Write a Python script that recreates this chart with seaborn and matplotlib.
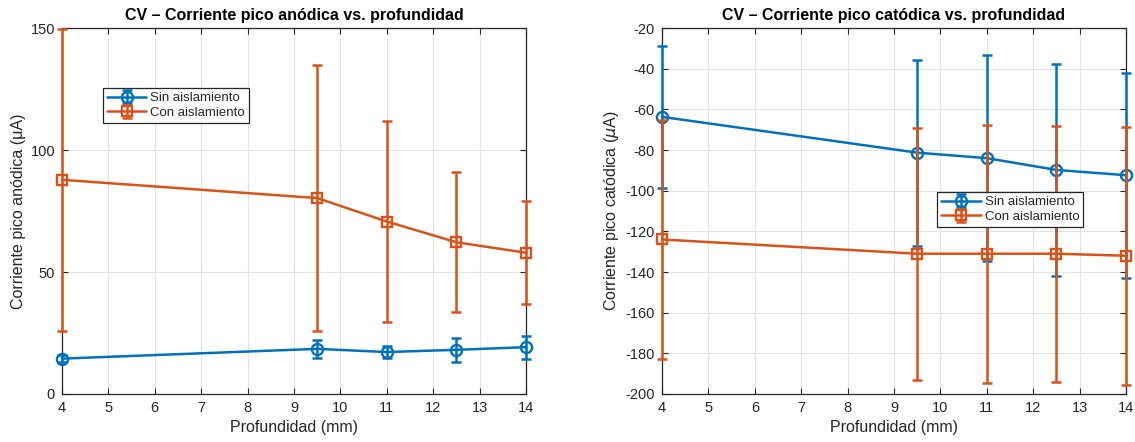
import numpy as np
import pandas as pd
import matplotlib
matplotlib.use("Agg")
import matplotlib.pyplot as plt
import seaborn as sns

# Depths (mm)
profundidad = [4, 9.5, 11, 12.5, 14]

# Anodic peak current (uA): mean and standard deviation
anod_sin = [14.5, 18.5, 17.2, 18.1, 19.2]
anod_sin_err = [1.5, 3.6, 2.3, 4.8, 4.7]
anod_con = [87.8, 80.3, 70.7, 62.2, 57.9]
anod_con_err = [62.0, 54.6, 41.0, 28.7, 21.2]

# Cathodic peak current (uA): mean and standard deviation
cat_sin = [-63.7, -81.3, -84.0, -89.8, -92.4]
cat_sin_err = [35.0, 45.7, 50.5, 52.0, 50.5]
cat_con = [-124.0, -131.0, -131.0, -131.0, -132.0]
cat_con_err = [59.0, 62.0, 63.5, 63.0, 63.5]

labels = ["Sin aislamiento", "Con aislamiento"]
colors = ["#0072BD", "#D95319"]
markers = ["o", "s"]

sns.set_theme(style="whitegrid")
plt.rcParams["font.family"] = ["Liberation Sans", "DejaVu Sans"]
plt.rcParams["axes.unicode_minus"] = False

fig = plt.figure(figsize=(11.35, 4.42), dpi=100)
ax1 = fig.add_axes([0.0546, 0.1086, 0.4088, 0.828])
ax2 = fig.add_axes([0.5833, 0.1086, 0.4088, 0.828])

edge = "#262626"


def panel(ax, series, title, ylabel, ylim, yticks, leg_anchor):
    handles = []
    for (vals, errs), lab, col, mk in zip(series, labels, colors, markers):
        df = pd.DataFrame({"x": profundidad, "y": vals})
        sns.lineplot(data=df, x="x", y="y", ax=ax, color=col, lw=1.8,
                     marker=mk, markersize=8 if mk == "o" else 6.5,
                     markerfacecolor="none", markeredgecolor=col,
                     markeredgewidth=1.7, legend=False, clip_on=False,
                     zorder=3)
        line = ax.lines[-1]
        eb = ax.errorbar(profundidad, vals, yerr=errs, fmt="none",
                         ecolor=col, elinewidth=1.8, capsize=3.5,
                         capthick=1.8, zorder=3)
        for art in eb.lines[1] + eb.lines[2]:
            art.set_clip_on(False)
        handles.append((line, eb))
    ax.set_xlim(4, 14)
    ax.set_ylim(*ylim)
    ax.set_xticks(range(4, 15))
    ax.set_yticks(yticks)
    ax.set_title(title, fontsize=11.5, fontweight="bold", color="black", pad=6)
    ax.set_xlabel("Profundidad (mm)", fontsize=11.5, color=edge, labelpad=4)
    ax.set_ylabel(ylabel, fontsize=11.5, color=edge, labelpad=3)
    ax.tick_params(axis="both", which="both", direction="in", length=4,
                   width=0.8, colors=edge, labelsize=10.5, top=True,
                   right=True, bottom=True, left=True, pad=5)
    ax.grid(True, color="#e3e3e3", lw=0.8)
    for sp in ax.spines.values():
        sp.set_color(edge)
        sp.set_linewidth(0.9)
    ax.set_facecolor("white")
    leg = ax.legend(handles, labels, loc="upper left",
                    bbox_to_anchor=leg_anchor, fontsize=9.5,
                    frameon=True, fancybox=False, framealpha=1,
                    edgecolor=edge, borderpad=0.3, labelspacing=0.2,
                    handlelength=3.0, handletextpad=0.3, borderaxespad=0)
    leg.get_frame().set_linewidth(0.9)
    leg.set_zorder(5)


panel(ax1, [(anod_sin, anod_sin_err), (anod_con, anod_con_err)],
      "CV – Corriente pico anódica vs. profundidad",
      "Corriente pico anódica (μA)", (0, 150), [0, 50, 100, 150],
      (0.088, 0.836))
panel(ax2, [(cat_sin, cat_sin_err), (cat_con, cat_con_err)],
      "CV – Corriente pico catódica vs. profundidad",
      r"Corriente pico catódica ($\mu$A)", (-200, -20),
      list(range(-200, -19, 20)), (0.593, 0.552))

fig.savefig("out.png", dpi=100, facecolor="white")
